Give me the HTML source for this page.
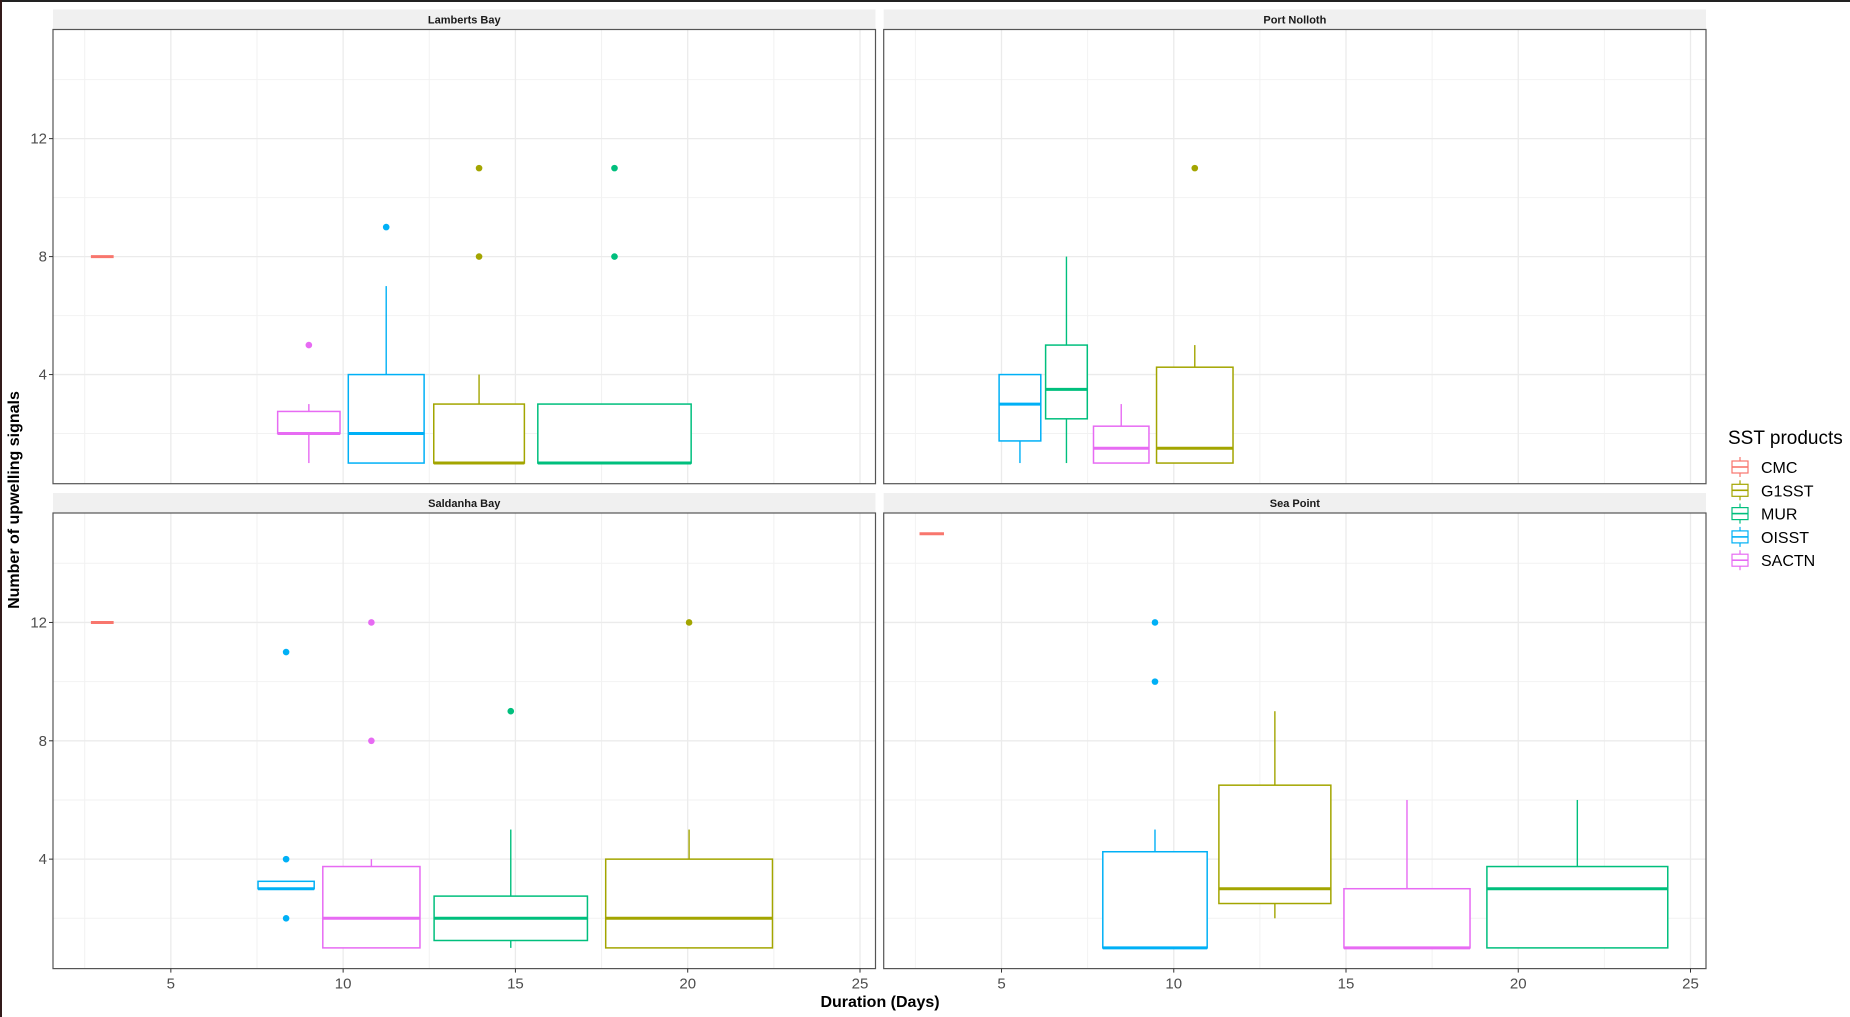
<!DOCTYPE html>
<html><head><meta charset="utf-8"><style>
html,body{margin:0;padding:0;background:#fff;}
svg{display:block;font-family:"Liberation Sans",sans-serif;}
</style></head><body>
<svg id="chart" width="1850" height="1017" viewBox="0 0 1850 1017">
<rect x="0" y="0" width="1850" height="1017" fill="#fff"/>
<rect x="0" y="0" width="1850" height="2" fill="#222"/>
<rect x="0" y="0" width="2" height="1017" fill="#331a1a"/>
<g id="panels"></g>
<text x="14" y="500" transform="rotate(-90 14 500)" dy="5" text-anchor="middle" font-size="16" font-weight="bold" fill="#000">Number of upwelling signals</text>
<text x="880" y="1007" text-anchor="middle" font-size="16" font-weight="bold" fill="#000">Duration (Days)</text>
<g id="legend">
<text x="1728" y="444" font-size="19" fill="#000">SST products</text>
</g>
</svg>
<script>
const panelNames = ["Lamberts Bay","Port Nolloth","Saldanha Bay","Sea Point"];
const products = ["CMC","G1SST","MUR","OISST","SACTN"];
const productColors = ["#F8766D","#A3A500","#00BF7D","#00B0F6","#E76BF3"];
const xTicks = [5,10,15,20,25];
const yTicks = [4,8,12];
const xMinorTicks = [2.5,7.5,12.5,17.5,22.5];
const yMinorTicks = [2,6,10,14];

const boxPanel   = [0,0,0,0,0, 1,1,1,1, 2,2,2,2,2, 3,3,3,3,3];
const boxProduct = ["CMC","SACTN","OISST","G1SST","MUR", "OISST","MUR","SACTN","G1SST", "CMC","OISST","SACTN","MUR","G1SST", "CMC","OISST","G1SST","SACTN","MUR"];
const boxXmin    = [2.68,8.10,10.15,12.63,15.65, 4.93,6.28,7.67,9.50, 2.68,7.53,9.41,12.64,17.62, 2.62,7.94,11.31,14.94,19.09];
const boxXmax    = [3.34,9.91,12.35,15.26,20.10, 6.14,7.49,9.28,11.72, 3.34,9.16,12.23,17.09,22.46, 3.33,10.97,14.56,18.60,24.34];
const boxWhiskLo = [8,1,1,1,1, 1,1,1,1, 12,3,1,1,1, 15,1,2,1,1];
const boxQ1      = [8,2,1,1,1, 1.75,2.5,1,1, 12,3,1,1.25,1, 15,1,2.5,1,1];
const boxMedian  = [8,2,2,1,1, 3,3.5,1.5,1.5, 12,3,2,2,2, 15,1,3,1,3];
const boxQ3      = [8,2.75,4,3,3, 4,5,2.25,4.25, 12,3.25,3.75,2.75,4, 15,4.25,6.5,3,3.75];
const boxWhiskHi = [8,3,7,4,3, 4,8,3,5, 12,3.25,4,5,5, 15,5,9,6,6];

const outBox   = [1,2,3,3,4,4, 8, 10,10,10,11,11,12,13, 15,15];
const outValue = [5,9,8,11,8,11, 11, 11,4,2,12,8,9,12, 12,10];

const NS="http://www.w3.org/2000/svg";
const X_DOMAIN=[1.58,25.45], Y_DOMAIN=[0.3,15.7];
const panelX=[[53,875.5],[883.7,1706],[53,875.5],[883.7,1706]];
const panelY=[[29.5,483.7],[29.5,483.7],[513,968.6],[513,968.6]];
const stripY=[[9.4,29.5],[9.4,29.5],[493,513],[493,513]];
function xs(p,v){const [a,b]=panelX[p];return a+(v-X_DOMAIN[0])/(X_DOMAIN[1]-X_DOMAIN[0])*(b-a);}
function ys(p,v){const [a,b]=panelY[p];return b-(v-Y_DOMAIN[0])/(Y_DOMAIN[1]-Y_DOMAIN[0])*(b-a);}
function mk(tag,attrs,parent){const e=document.createElementNS(NS,tag);for(const k in attrs)e.setAttribute(k,attrs[k]);parent.appendChild(e);return e;}
function col(prod){return productColors[products.indexOf(prod)];}
const root=document.getElementById('panels');

for(let p=0;p<4;p++){
  const g=mk('g',{},root);
  
  
  const [x0,x1]=panelX[p],[y0,y1]=panelY[p];
  const strip=mk('rect',{x:x0,y:stripY[p][0],width:x1-x0,height:stripY[p][1]-stripY[p][0],fill:'#F0F0F0'},g);
  
  
  const st=mk('text',{x:(x0+x1)/2,y:stripY[p][1]-6,'text-anchor':'middle','font-size':'11','font-weight':'bold',fill:'#1A1A1A'},g);
  st.textContent=panelNames[p];
  
  
  xMinorTicks.forEach(v=>{const l=mk('line',{x1:xs(p,v),x2:xs(p,v),y1:y0,y2:y1,stroke:'#F2F2F2','stroke-width':1},g);});
  yMinorTicks.forEach(v=>{const l=mk('line',{x1:x0,x2:x1,y1:ys(p,v),y2:ys(p,v),stroke:'#F2F2F2','stroke-width':1},g);});
  xTicks.forEach(v=>{const l=mk('line',{x1:xs(p,v),x2:xs(p,v),y1:y0,y2:y1,stroke:'#EBEBEB','stroke-width':1.3},g);});
  yTicks.forEach(v=>{const l=mk('line',{x1:x0,x2:x1,y1:ys(p,v),y2:ys(p,v),stroke:'#EBEBEB','stroke-width':1.3},g);});
  const border=mk('rect',{x:x0,y:y0,width:x1-x0,height:y1-y0,fill:'none',stroke:'#555','stroke-width':1.2},g);
  
  
  if(p%2===0){
    yTicks.forEach(v=>{
      mk('line',{x1:x0-4,x2:x0,y1:ys(p,v),y2:ys(p,v),stroke:'#333','stroke-width':1},g);
      const t=mk('text',{x:x0-6,y:ys(p,v)+5,'text-anchor':'end','font-size':'15',fill:'#4D4D4D'},g);
      t.textContent=v;
      
      
    });
  }
  if(p>=2){
    xTicks.forEach(v=>{
      mk('line',{x1:xs(p,v),x2:xs(p,v),y1:y1,y2:y1+4,stroke:'#333','stroke-width':1},g);
      const t=mk('text',{x:xs(p,v),y:y1+20,'text-anchor':'middle','font-size':'15',fill:'#4D4D4D'},g);
      t.textContent=v;
      
      
    });
  }
}

for(let i=0;i<boxPanel.length;i++){
  const p=boxPanel[i], c=col(boxProduct[i]);
  const g=mk('g',{},root);
  
  
  const xa=xs(p,boxXmin[i]), xb=xs(p,boxXmax[i]), xc=(xa+xb)/2;
  mk('line',{x1:xc,x2:xc,y1:ys(p,boxQ3[i]),y2:ys(p,boxWhiskHi[i]),stroke:c,'stroke-width':1.4},g);
  mk('line',{x1:xc,x2:xc,y1:ys(p,boxQ1[i]),y2:ys(p,boxWhiskLo[i]),stroke:c,'stroke-width':1.4},g);
  mk('rect',{x:xa,y:ys(p,boxQ3[i]),width:xb-xa,height:Math.max(0,ys(p,boxQ1[i])-ys(p,boxQ3[i])),fill:'#fff',stroke:c,'stroke-width':1.5},g);
  mk('line',{x1:xa,x2:xb,y1:ys(p,boxMedian[i]),y2:ys(p,boxMedian[i]),stroke:c,'stroke-width':3},g);
}
for(let j=0;j<outBox.length;j++){
  const i=outBox[j], p=boxPanel[i];
  const cx=(xs(p,boxXmin[i])+xs(p,boxXmax[i]))/2;
  const d=mk('circle',{cx:cx,cy:ys(p,outValue[j]),r:3.3,fill:col(boxProduct[i])},root);
  
  
}

const leg=document.getElementById('legend');
products.forEach((pr,k)=>{
  const cy=467+k*23.3, c=productColors[k];
  const g=mk('g',{},leg);
  
  
  mk('line',{x1:1740,x2:1740,y1:cy-10,y2:cy+10,stroke:c,'stroke-width':1.2},g);
  mk('rect',{x:1732,y:cy-6,width:16,height:12,fill:'#fff',stroke:c,'stroke-width':1.2},g);
  mk('line',{x1:1732,x2:1748,y1:cy,y2:cy,stroke:c,'stroke-width':1.6},g);
  const t=mk('text',{x:1761,y:cy+6,'font-size':'16',fill:'#000'},g);
  t.textContent=pr;
});
</script>
</body></html>
